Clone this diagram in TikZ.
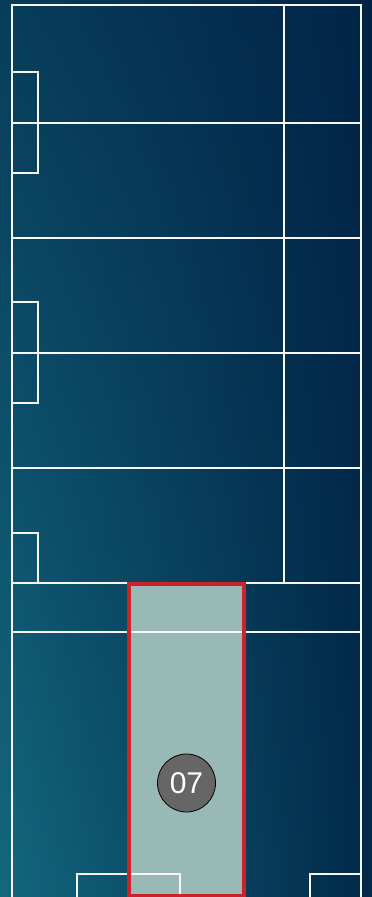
\documentclass[tikz,border=0pt]{standalone}
\usepackage{fontspec}
\setmainfont{Liberation Sans}
\usetikzlibrary{fadings}
\definecolor{bgBL}{HTML}{13687F}
\definecolor{bgR}{HTML}{022A4A}
\definecolor{bgTop}{HTML}{012044}
\definecolor{roomfill}{HTML}{99B9B7}
\definecolor{roomred}{HTML}{CC2229}
\definecolor{badge}{HTML}{666666}
\tikzset{
  wall/.style={draw=white!94!gray, line width=2pt},
  selroom/.style={draw=roomred, line width=3.2pt},
  badgenode/.style={circle, fill=badge, draw=black, line width=0.8pt, minimum size=58pt, inner sep=0pt, text=white, font=\fontsize{30}{30}\selectfont}
}
\begin{document}
\begin{tikzpicture}[x=1pt,y=-1pt]
\useasboundingbox (0,0) rectangle (372,897);
% background
\shade[left color=bgBL, right color=bgR] (0,0) rectangle (372,897);
\fill[bgTop, path fading=south, fill opacity=0.6] (0,0) rectangle (372,897);
% selected room fill
\fill[roomfill] (129,583) rectangle (244,897);
% walls
\draw[wall] (12,897) -- (12,5) -- (361,5) -- (361,897);
\foreach \yy in {123,238,353,468,583,632} \draw[wall] (12,\yy) -- (361,\yy);
\draw[wall] (284,5) -- (284,583);
\draw[wall] (12,72) rectangle (38,173);
\draw[wall] (12,302) rectangle (38,403);
\draw[wall] (12,533) -- (38,533) -- (38,583);
\draw[wall] (77,897) -- (77,874) -- (180,874) -- (180,897);
\draw[wall] (310,897) -- (310,874) -- (361,874);
% selected room border
\draw[selroom] (129,899) -- (129,584) -- (244,584) -- (244,899);
\draw[selroom] (127,895.5) -- (246,895.5);
% badge
\node[badgenode] (b07) at (186.5,783) {07};
\end{tikzpicture}
\end{document}
